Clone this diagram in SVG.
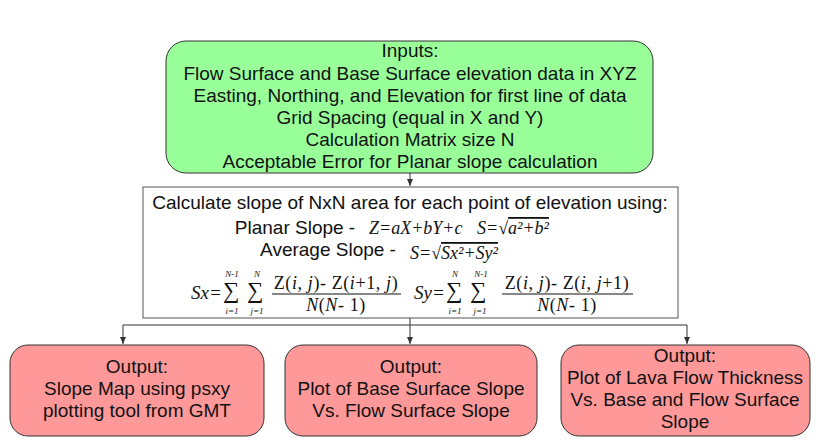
<svg xmlns="http://www.w3.org/2000/svg" width="820" height="445" viewBox="0 0 820 445">
<style>
.t{font-family:"Liberation Sans",Arial,sans-serif;font-size:19px;fill:#111;text-anchor:middle}
.m{font-family:"Liberation Serif","Times New Roman",serif;font-style:italic;fill:#111}
.n{font-family:"Liberation Serif","Times New Roman",serif;fill:#111}
.g{fill:#99ff99;stroke:#333;stroke-width:1}
.r{fill:#ff9999;stroke:#333;stroke-width:1}
.c{fill:none;stroke:#333;stroke-width:1}
</style>
<defs><marker id="a" markerWidth="8" markerHeight="8" refX="7" refY="4" orient="auto" markerUnits="userSpaceOnUse"><path d="M0,1 L7,4 L0,7 Z" fill="#333"/></marker></defs>
<rect width="820" height="445" fill="#fff"/>
<g id="inputs">
<rect class="g" x="166" y="41" width="487" height="132" rx="20"/>
<text class="t" x="410" y="57">Inputs:</text>
<text class="t" x="410" y="80">Flow Surface and Base Surface elevation data in XYZ</text>
<text class="t" x="410" y="102">Easting, Northing, and Elevation for first line of data</text>
<text class="t" x="410" y="124">Grid Spacing (equal in X and Y)</text>
<text class="t" x="410" y="146">Calculation Matrix size N</text>
<text class="t" x="410" y="168">Acceptable Error for Planar slope calculation</text>
</g>
<g id="calc">
<rect x="143" y="187" width="535" height="131" fill="#fff" stroke="#555"/>
<text class="t" x="410" y="209">Calculate slope of NxN area for each point of elevation using:</text>
<text class="t" x="295" y="234">Planar Slope -</text>
<text class="m" x="369" y="234" font-size="18">Z=aX+bY+c</text>
<text class="m" x="477" y="234" font-size="18">S=√<tspan text-decoration="overline">a²+b²</tspan></text>
<text class="t" x="328" y="256">Average Slope -</text>
<text class="m" x="410" y="259" font-size="18">S=√<tspan text-decoration="overline">Sx²+Sy²</tspan></text>
<text class="m" x="191" y="299" font-size="19">Sx=</text>
<text class="n" x="223" y="298" font-size="23">∑</text><text class="n" x="247" y="298" font-size="23">∑</text>
<text class="m" x="232" y="277" font-size="9" text-anchor="middle">N-1</text><text class="m" x="257" y="277" font-size="9" text-anchor="middle">N</text>
<text class="m" x="232" y="314" font-size="9" text-anchor="middle">i=1</text><text class="m" x="257" y="314" font-size="9" text-anchor="middle">j=1</text>
<text class="n" x="336" y="289" font-size="18" letter-spacing="0.6" text-anchor="middle">Z(<tspan font-style="italic">i</tspan>, <tspan font-style="italic">j</tspan>)- Z(<tspan font-style="italic">i</tspan>+1, <tspan font-style="italic">j</tspan>)</text>
<line x1="272" y1="294" x2="401" y2="294" stroke="#111"/>
<text class="n" x="336" y="311" font-size="18" letter-spacing="0.6" text-anchor="middle"><tspan font-style="italic">N</tspan>(<tspan font-style="italic">N</tspan>- 1)</text>
<text class="m" x="414" y="299" font-size="19">Sy=</text>
<text class="n" x="446" y="298" font-size="23">∑</text><text class="n" x="470" y="298" font-size="23">∑</text>
<text class="m" x="455" y="277" font-size="9" text-anchor="middle">N</text><text class="m" x="481" y="277" font-size="9" text-anchor="middle">N-1</text>
<text class="m" x="455" y="314" font-size="9" text-anchor="middle">i=1</text><text class="m" x="480" y="314" font-size="9" text-anchor="middle">j=1</text>
<text class="n" x="567" y="289" font-size="18" letter-spacing="0.6" text-anchor="middle">Z(<tspan font-style="italic">i</tspan>, <tspan font-style="italic">j</tspan>)- Z(<tspan font-style="italic">i</tspan>, <tspan font-style="italic">j</tspan>+1)</text>
<line x1="502" y1="294" x2="633" y2="294" stroke="#111"/>
<text class="n" x="567" y="311" font-size="18" letter-spacing="0.6" text-anchor="middle"><tspan font-style="italic">N</tspan>(<tspan font-style="italic">N</tspan>- 1)</text>
</g>
<g id="connectors">
<line class="c" x1="410" y1="173" x2="410" y2="186" marker-end="url(#a)"/>
<polyline class="c" points="410,318 410,325"/>
<line class="c" x1="123" y1="325" x2="687" y2="325"/>
<line class="c" x1="123" y1="325" x2="123" y2="344" marker-end="url(#a)"/>
<line class="c" x1="410" y1="325" x2="410" y2="344" marker-end="url(#a)"/>
<line class="c" x1="687" y1="325" x2="687" y2="344" marker-end="url(#a)"/>
</g>
<g id="out1">
<rect class="r" x="10" y="345" width="254" height="91" rx="18"/>
<text class="t" x="137" y="373">Output:</text>
<text class="t" x="137" y="395">Slope Map using psxy</text>
<text class="t" x="137" y="417">plotting tool from GMT</text>
</g>
<g id="out2">
<rect class="r" x="285" y="345" width="252" height="91" rx="18"/>
<text class="t" x="411" y="373">Output:</text>
<text class="t" x="411" y="395">Plot of Base Surface Slope</text>
<text class="t" x="411" y="417">Vs. Flow Surface Slope</text>
</g>
<g id="out3">
<rect class="r" x="561" y="345" width="249" height="91" rx="18"/>
<text class="t" x="685" y="362">Output:</text>
<text class="t" x="685" y="384">Plot of Lava Flow Thickness</text>
<text class="t" x="685" y="406">Vs. Base and Flow Surface</text>
<text class="t" x="685" y="428">Slope</text>
</g>
</svg>
